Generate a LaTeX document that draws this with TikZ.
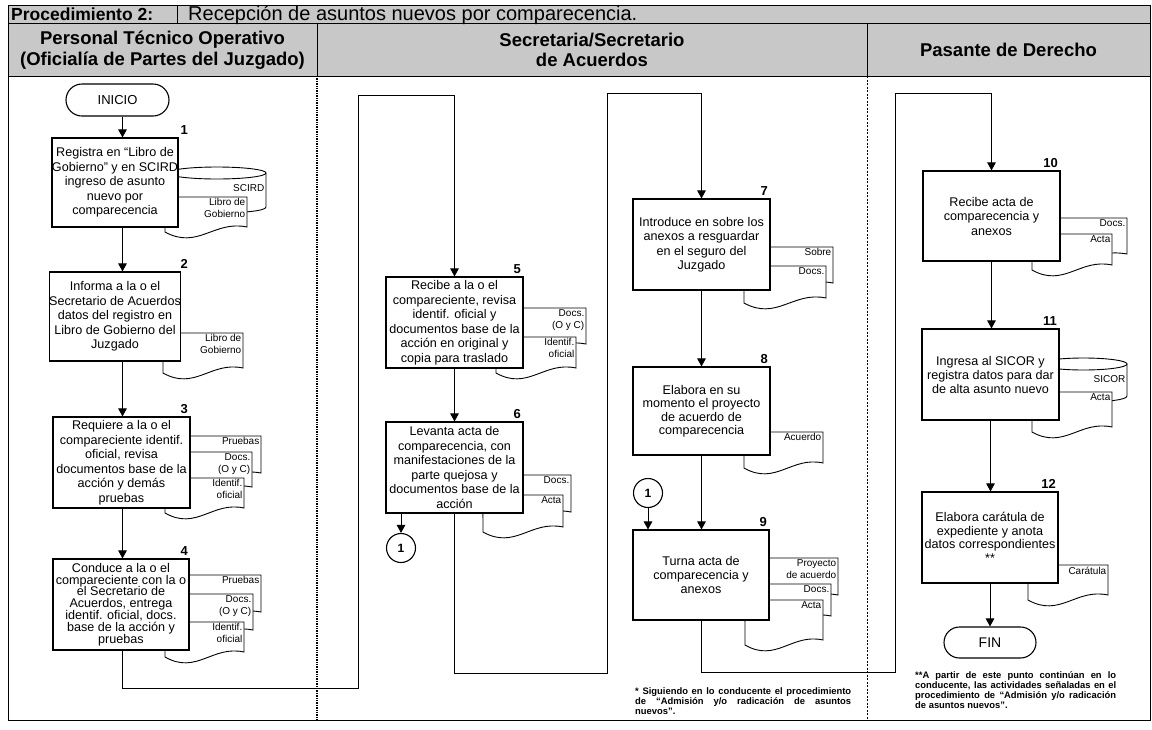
\documentclass[tikz,border=0pt]{standalone}
\usepackage{fontspec}
\setmainfont{Liberation Sans}
\usetikzlibrary{arrows.meta}
\definecolor{hdr}{RGB}{200,200,200}

% document symbol: name, left x, top y, right x, bottom y (left end), label
\newcommand\docshape[6]{%
  \path[docline] (#2,#3) -- (#4,#3) -- (#4,{#5-5})
    .. controls ({#4-0.4*(#4-#2)},{#5-12}) and ({#2+0.4*(#4-#2)},{#5+18}) .. (#2,#5) -- cycle;
  \node[dlab, anchor=north east] (#1) at ({#4-1},{#3+1}) {#6};}
% stored-data cylinder: left x, top y, right x, bottom y
\newcommand\dbshape[4]{%
  \path[docline] (#1,{#2+6}) -- (#1,#4) .. controls (#1,{#4+8}) and (#3,{#4+8}) .. (#3,#4) -- (#3,{#2+6});
  \path[docline] ({(#1+#3)/2},{#2+6}) ellipse [x radius={(#3-#1)/2}, y radius=6];}

\begin{document}
\begin{tikzpicture}[x=1pt,y=-1pt,
  box/.style={draw, fill=white, line width=1.1pt, align=center, inner sep=0pt,
    font=\fontsize{12.6}{14.5}\selectfont},
  term/.style={draw, fill=white, line width=1.1pt, inner sep=0pt,
    font=\fontsize{13}{15}\selectfont},
  conn/.style={draw, circle, fill=white, line width=1.1pt, inner sep=0pt,
    minimum size=29pt, font=\bfseries\fontsize{12}{14}\selectfont},
  docline/.style={draw, fill=white, line width=0.9pt},
  dlab/.style={align=right, inner sep=0.5pt, font=\fontsize{10}{12}\selectfont},
  num/.style={anchor=base east, inner sep=0pt, font=\bfseries\fontsize{13}{15}\selectfont},
  arr/.style={line width=1pt, -{Triangle[length=8pt,width=8.5pt]}},
  hdrtext/.style={align=center, inner sep=0pt, font=\bfseries\fontsize{18.5}{20.5}\selectfont},
  fnote/.style={align=justify, inner sep=0pt, anchor=north west,
    font=\bfseries\fontsize{9.4}{10}\selectfont},
  sepA/.style={line width=1.8pt, dash pattern=on 1.4pt off 1pt},
  sepB/.style={line width=0.6pt, dash pattern=on 2pt off 1.5pt}]
\useasboundingbox (0,0) rectangle (1152,729);

% ---- header band ----
\fill[hdr] (8,5) rectangle (1150,76);
\draw[line width=1pt] (8,5) rectangle (1150,720);
\draw[line width=1pt] (8,23) -- (1150,23) (8,76) -- (1150,76);
\draw[line width=1pt] (177,5) -- (177,23) (317,23) -- (317,76) (867,23) -- (867,76);
\node[anchor=base west, inner sep=0pt, font=\bfseries\fontsize{17.5}{20}\selectfont] (ttl) at (11,20) {Procedimiento 2:};
\node[anchor=base west, inner sep=0pt, font=\fontsize{20}{22}\selectfont] (ttlb) at (188,20) {Recepción de asuntos nuevos por comparecencia.};
\node[hdrtext] (h1) at (162.5,50) {Personal Técnico Operativo\\(Oficialía de Partes del Juzgado)};
\node[hdrtext] (h2) at (592,50) {Secretaria/Secretario\\de Acuerdos};
\node[hdrtext] (h3) at (1008.5,50) {Pasante de Derecho};

% ---- lane separators ----
\draw[sepA] (317,76) -- (317,720);
\draw[sepB] (867,76) -- (867,720);

% ---- documents and stores ----
\dbshape{168}{167}{266}{207}
\node[dlab, anchor=east] (s1) at (265,188) {SCIRD};
\docshape{d1}{165}{197}{247}{232}{Libro de\\Gobierno}
\docshape{d2}{163}{333}{243}{373}{Libro de\\Gobierno}
\docshape{d3a}{165}{436}{261}{478}{Pruebas}
\docshape{d3b}{165}{452}{252}{492}{Docs.\\(O y C)}
\docshape{d3c}{165}{478}{244}{513}{Identif.\\oficial}
\docshape{d4a}{165}{575}{261}{617}{Pruebas}
\docshape{d4b}{165}{594}{253}{635}{Docs.\\(O y C)}
\docshape{d4c}{165}{622}{244}{657}{Identif.\\oficial}
\docshape{d5a}{496}{308}{586}{349}{Docs.\\(O y C)}
\docshape{d5b}{496}{337}{576}{373}{Identif.\\oficial}
\docshape{d6a}{483}{475}{571}{517}{Docs.}
\docshape{d6b}{483}{495}{563}{532}{Acta}
\docshape{d7a}{744}{247}{833}{288}{Sobre}
\docshape{d7b}{744}{266}{826}{303}{Docs.}
\docshape{d8}{744}{432}{823}{468}{Acuerdo}
\docshape{d9a}{745}{558}{838}{600}{Proyecto\\de acuerdo}
\docshape{d9b}{745}{584}{831}{621}{Docs.}
\docshape{d9c}{745}{600}{823}{645}{Acta}
\docshape{d10a}{1032}{218}{1127}{259}{Docs.}
\docshape{d10b}{1032}{234}{1112}{270}{Acta}
\dbshape{1040}{358}{1127}{396}
\node[dlab, anchor=east] (s2) at (1126,379) {SICOR};
\docshape{d11}{1032}{392}{1112}{432}{Acta}
\docshape{d12}{1028}{565}{1108}{600}{Carátula}

% ---- terminals and activities ----
\node[term, minimum width=103pt, minimum height=32pt, rounded corners=16pt] (ini) at (117.5,100) {INICIO};
\node[box, minimum width=124pt, minimum height=89pt] (b1) at (115,182.5)
  {Registra en “Libro de\\Gobierno” y en SCIRD\\ingreso de asunto\\nuevo por\\comparecencia};
\node[box, minimum width=124pt, minimum height=89pt] (b2) at (115,316.5)
  {Informa a la o el\\Secretario de Acuerdos\\datos del registro en\\Libro de Gobierno del\\Juzgado};
\node[box, minimum width=137pt, minimum height=91pt] (b3) at (121.5,462.5)
  {Requiere a la o el\\compareciente identif.\\oficial, revisa\\documentos base de la\\acción y demás\\pruebas};
\node[box, minimum width=136pt, minimum height=91pt, font=\fontsize{12.6}{11.8}\selectfont] (b4) at (121,604.5)
  {Conduce a la o el\\compareciente con la o\\el Secretario de\\Acuerdos, entrega\\identif. oficial, docs.\\base de la acción y\\pruebas};
\node[box, minimum width=137pt, minimum height=91pt] (b5) at (454.5,322.5)
  {Recibe a la o el\\compareciente, revisa\\identif. oficial y\\documentos base de la\\acción en original y\\copia para traslado};
\node[box, minimum width=137pt, minimum height=91pt] (b6) at (454.5,467.5)
  {Levanta acta de\\comparecencia, con\\manifestaciones de la\\parte quejosa y\\documentos base de la\\acción};
\node[box, minimum width=137pt, minimum height=91pt] (b7) at (701.5,244.5)
  {Introduce en sobre los\\anexos a resguardar\\en el seguro del\\Juzgado};
\node[box, minimum width=137pt, minimum height=88pt, font=\fontsize{12.6}{13.5}\selectfont] (b8) at (701.5,411)
  {Elabora en su\\momento el proyecto\\de acuerdo de\\comparecencia};
\node[box, minimum width=136pt, minimum height=90pt, font=\fontsize{12.6}{14}\selectfont] (b9) at (701,575)
  {Turna acta de\\comparecencia y\\anexos};
\node[box, minimum width=137pt, minimum height=90pt] (b10) at (991.5,216)
  {Recibe acta de\\comparecencia y\\anexos};
\node[box, minimum width=137pt, minimum height=91pt, font=\fontsize{12.6}{14}\selectfont] (b11) at (990.5,374.5)
  {Ingresa al SICOR y\\registra datos para dar\\de alta asunto nuevo};
\node[box, minimum width=136pt, minimum height=91pt, font=\fontsize{12.6}{13.5}\selectfont] (b12) at (990,537.5)
  {Elabora carátula de\\expediente y anota\\datos correspondientes\\**};
\node[term, minimum width=92pt, minimum height=31pt, rounded corners=15.5pt, font=\fontsize{14}{16}\selectfont] (fin) at (990,642.5) {FIN};

% ---- off-page connectors ----
\node[conn] (c1a) at (401,548) {1};
\node[conn] (c1b) at (648,493) {1};

% ---- step numbers ----
\node[num] (n1) at (188,134) {1};
\node[num] (n2) at (188,268) {2};
\node[num] (n3) at (188,413) {3};
\node[num] (n4) at (188,555) {4};
\node[num] (n5) at (521,273) {5};
\node[num] (n6) at (521,418) {6};
\node[num] (n7) at (768,195) {7};
\node[num] (n8) at (768,363) {8};
\node[num] (n9) at (767,526) {9};
\node[num] (n10) at (1058,167) {10};
\node[num] (n11) at (1057,325) {11};
\node[num] (n12) at (1056,488) {12};

% ---- flow ----
\coordinate (colA) at (122.5,0);
\draw[arr] (ini.south -| colA) -- (b1.north -| colA);
\draw[arr] (b1.south -| colA) -- (b2.north -| colA);
\draw[arr] (b2.south -| colA) -- (b3.north -| colA);
\draw[arr] (b3.south -| colA) -- (b4.north -| colA);
\coordinate (w1) at (122.5,688);
\coordinate (w2) at (358,688);
\coordinate (w3) at (358,95);
\coordinate (w4) at (454.5,95);
\draw[arr] (b4.south -| w1) -- (w1) -- (w2) -- (w3) -- (w4) -- (b5.north);
\draw[arr] (b5.south) -- (b6.north);
\draw[arr] (b6.south -| c1a) -- (c1a.north);
\coordinate (v1) at (454.5,673);
\coordinate (v2) at (607,673);
\coordinate (v3) at (607,93);
\coordinate (v4) at (701.5,93);
\draw[arr] (b6.south) -- (v1) -- (v2) -- (v3) -- (v4) -- (b7.north);
\draw[arr] (b7.south) -- (b8.north);
\draw[arr] (b8.south) -- (b9.north -| b8.south);
\draw[arr] (c1b.south) -- (b9.north -| c1b);
\coordinate (u1) at (701,672);
\coordinate (u2) at (895,672);
\coordinate (u3) at (895,93);
\coordinate (u4) at (991.5,93);
\draw[arr] (b9.south) -- (u1) -- (u2) -- (u3) -- (u4) -- (b10.north);
\draw[arr] (b10.south) -- (b11.north -| b10.south);
\draw[arr] (b11.south) -- (b12.north -| b11.south);
\draw[arr] (b12.south) -- (fin.north);

% ---- notes ----
\node[fnote, text width=216pt] (fn1) at (635,687)
  {* Siguiendo en lo conducente el procedimiento\linebreak de “Admisión y/o radicación de asuntos\linebreak nuevos”.};
\node[fnote, text width=201pt] (fn2) at (915,671)
  {**A partir de este punto continúan en lo\linebreak conducente, las actividades señaladas en el\linebreak procedimiento de “Admisión y/o radicación\linebreak de asuntos nuevos”.};
\end{tikzpicture}
\end{document}
